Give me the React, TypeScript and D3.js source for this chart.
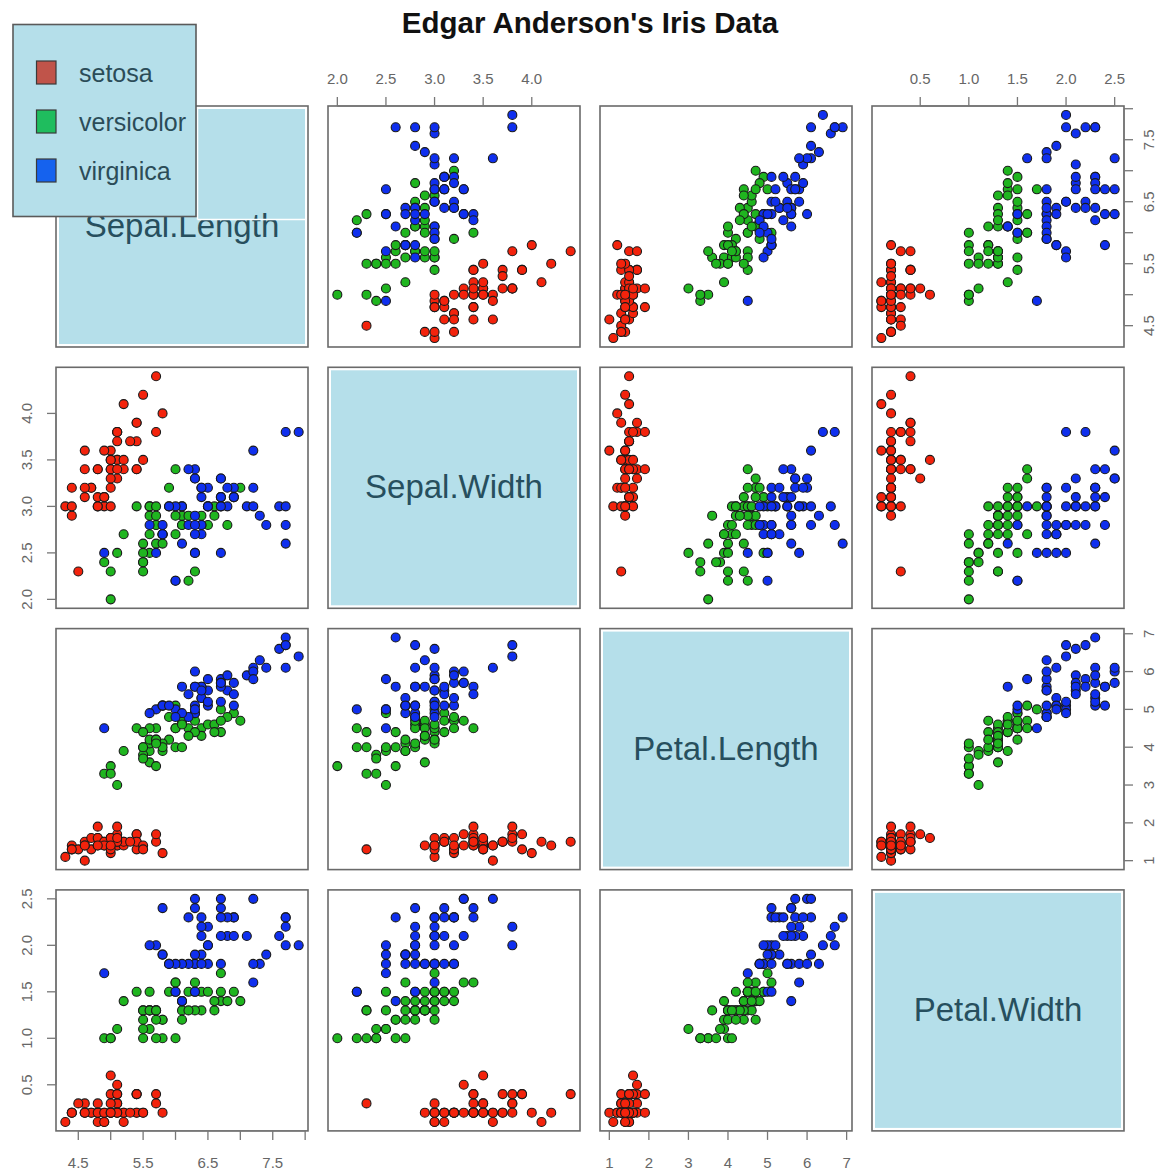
import React from "react";
import * as d3 from "d3";

const title = "Edgar Anderson's Iris Data";
const variables = ["Sepal.Length", "Sepal.Width", "Petal.Length", "Petal.Width"];
const speciesNames = ["setosa", "versicolor", "virginica"];
const speciesCounts = [50, 50, 50];
const pointColors = ["#f3230c", "#1fb51f", "#0f2fee"];
const legendColors = ["#c0544a", "#1fbd5e", "#1562ee"];

const sepalLength = [
  5.1,4.9,4.7,4.6,5.0,5.4,4.6,5.0,4.4,4.9,5.4,4.8,4.8,4.3,5.8,5.7,5.4,5.1,5.7,5.1,5.4,5.1,4.6,5.1,4.8,5.0,5.0,5.2,5.2,4.7,4.8,5.4,5.2,5.5,4.9,5.0,5.5,4.9,4.4,5.1,5.0,4.5,4.4,5.0,5.1,4.8,5.1,4.6,5.3,5.0,
  7.0,6.4,6.9,5.5,6.5,5.7,6.3,4.9,6.6,5.2,5.0,5.9,6.0,6.1,5.6,6.7,5.6,5.8,6.2,5.6,5.9,6.1,6.3,6.1,6.4,6.6,6.8,6.7,6.0,5.7,5.5,5.5,5.8,6.0,5.4,6.0,6.7,6.3,5.6,5.5,5.5,6.1,5.8,5.0,5.6,5.7,5.7,6.2,5.1,5.7,
  6.3,5.8,7.1,6.3,6.5,7.6,4.9,7.3,6.7,7.2,6.5,6.4,6.8,5.7,5.8,6.4,6.5,7.7,7.7,6.0,6.9,5.6,7.7,6.3,6.7,7.2,6.2,6.1,6.4,7.2,7.4,7.9,6.4,6.3,6.1,7.7,6.3,6.4,6.0,6.9,6.7,6.9,5.8,6.8,6.7,6.7,6.3,6.5,6.2,5.9
];
const sepalWidth = [
  3.5,3.0,3.2,3.1,3.6,3.9,3.4,3.4,2.9,3.1,3.7,3.4,3.0,3.0,4.0,4.4,3.9,3.5,3.8,3.8,3.4,3.7,3.6,3.3,3.4,3.0,3.4,3.5,3.4,3.2,3.1,3.4,4.1,4.2,3.1,3.2,3.5,3.6,3.0,3.4,3.5,2.3,3.2,3.5,3.8,3.0,3.8,3.2,3.7,3.3,
  3.2,3.2,3.1,2.3,2.8,2.8,3.3,2.4,2.9,2.7,2.0,3.0,2.2,2.9,2.9,3.1,3.0,2.7,2.2,2.5,3.2,2.8,2.5,2.8,2.9,3.0,2.8,3.0,2.9,2.6,2.4,2.4,2.7,2.7,3.0,3.4,3.1,2.3,3.0,2.5,2.6,3.0,2.6,2.3,2.7,3.0,2.9,2.9,2.5,2.8,
  3.3,2.7,3.0,2.9,3.0,3.0,2.5,2.9,2.5,3.6,3.2,2.7,3.0,2.5,2.8,3.2,3.0,3.8,2.6,2.2,3.2,2.8,2.8,2.7,3.3,3.2,2.8,3.0,2.8,3.0,2.8,3.8,2.8,2.8,2.6,3.0,3.4,3.1,3.0,3.1,3.1,3.1,2.7,3.2,3.3,3.0,2.5,3.0,3.4,3.0
];
const petalLength = [
  1.4,1.4,1.3,1.5,1.4,1.7,1.4,1.5,1.4,1.5,1.5,1.6,1.4,1.1,1.2,1.5,1.3,1.4,1.7,1.5,1.7,1.5,1.0,1.7,1.9,1.6,1.6,1.5,1.4,1.6,1.6,1.5,1.5,1.4,1.5,1.2,1.3,1.4,1.3,1.5,1.3,1.3,1.3,1.6,1.9,1.4,1.6,1.4,1.5,1.4,
  4.7,4.5,4.9,4.0,4.6,4.5,4.7,3.3,4.6,3.9,3.5,4.2,4.0,4.7,3.6,4.4,4.5,4.1,4.5,3.9,4.8,4.0,4.9,4.7,4.3,4.4,4.8,5.0,4.5,3.5,3.8,3.7,3.9,5.1,4.5,4.5,4.7,4.4,4.1,4.0,4.4,4.6,4.0,3.3,4.2,4.2,4.2,4.3,3.0,4.1,
  6.0,5.1,5.9,5.6,5.8,6.6,4.5,6.3,5.8,6.1,5.1,5.3,5.5,5.0,5.1,5.3,5.5,6.7,6.9,5.0,5.7,4.9,6.7,4.9,5.7,6.0,4.8,4.9,5.6,5.8,6.1,6.4,5.6,5.1,5.6,6.1,5.6,5.5,4.8,5.4,5.6,5.1,5.1,5.9,5.7,5.2,5.0,5.2,5.4,5.1
];
const petalWidth = [
  0.2,0.2,0.2,0.2,0.2,0.4,0.3,0.2,0.2,0.1,0.2,0.2,0.1,0.1,0.2,0.4,0.4,0.3,0.3,0.3,0.2,0.4,0.2,0.5,0.2,0.2,0.4,0.2,0.2,0.2,0.2,0.4,0.1,0.2,0.2,0.2,0.2,0.1,0.2,0.2,0.3,0.3,0.2,0.6,0.4,0.3,0.2,0.2,0.2,0.2,
  1.4,1.5,1.5,1.3,1.5,1.3,1.6,1.0,1.3,1.4,1.0,1.5,1.0,1.4,1.3,1.4,1.5,1.0,1.5,1.1,1.8,1.3,1.5,1.2,1.3,1.4,1.4,1.7,1.5,1.0,1.1,1.0,1.2,1.6,1.5,1.6,1.5,1.3,1.3,1.3,1.2,1.4,1.2,1.0,1.3,1.2,1.3,1.3,1.1,1.3,
  2.5,1.9,2.1,1.8,2.2,2.1,1.7,1.8,1.8,2.5,2.0,1.9,2.1,2.0,2.4,2.3,1.8,2.2,2.3,1.5,2.3,2.0,2.0,1.8,2.1,1.8,1.8,1.8,2.1,1.6,1.9,2.0,2.2,1.5,1.4,2.3,2.4,1.8,1.8,2.1,2.4,2.3,1.9,2.3,2.5,2.3,1.9,2.0,2.3,1.8
];

// tick values and which get labels
const ticksSepalLength = [4.5, 5.0, 5.5, 6.0, 6.5, 7.0, 7.5, 8.0];
const labelsSepalLength = ["4.5", "", "5.5", "", "6.5", "", "7.5", ""];
const ticksSepalWidth = [2.0, 2.5, 3.0, 3.5, 4.0];
const labelsSepalWidth = ["2.0", "2.5", "3.0", "3.5", "4.0"];
const ticksPetalLength = [1, 2, 3, 4, 5, 6, 7];
const labelsPetalLength = ["1", "2", "3", "4", "5", "6", "7"];
const ticksPetalWidth = [0.5, 1.0, 1.5, 2.0, 2.5];
const labelsPetalWidth = ["0.5", "1.0", "1.5", "2.0", "2.5"];

const columns = [sepalLength, sepalWidth, petalLength, petalWidth];
const tickSets = [ticksSepalLength, ticksSepalWidth, ticksPetalLength, ticksPetalWidth];
const labelSets = [labelsSepalLength, labelsSepalWidth, labelsPetalLength, labelsPetalWidth];

const W = 1158, H = 1173;
const PX0 = 56, PSTRIDE_X = 272, PW = 252;
const PY0 = 106, PSTRIDE_Y = 261.3, PH = 241;
const FONT = "'Liberation Sans', Arial, Helvetica, sans-serif";
const BOX = "#6a6a6a";
const AXIS = "#777";
const TICKTXT = "#666";
const LIGHTBLUE = "#b5dfea";
const DIAGTXT = "#274f5e";

function speciesIndex(): number[] {
  const out: number[] = [];
  speciesCounts.forEach((n, s) => { for (let i = 0; i < n; i++) out.push(s); });
  return out;
}

function extDomain(v: number[]): [number, number] {
  const [lo, hi] = d3.extent(v) as [number, number];
  const pad = (hi - lo) * 0.04;
  return [lo - pad, hi + pad];
}

export default function App() {
  const sp = speciesIndex();
  const n = variables.length;
  const xScales = columns.map((c, j) =>
    d3.scaleLinear().domain(extDomain(c)).range([PX0 + j * PSTRIDE_X, PX0 + j * PSTRIDE_X + PW]));
  const yScales = columns.map((c, i) =>
    d3.scaleLinear().domain(extDomain(c)).range([PY0 + i * PSTRIDE_Y + PH, PY0 + i * PSTRIDE_Y]));

  const panels: React.ReactNode[] = [];
  for (let i = 0; i < n; i++) {
    for (let j = 0; j < n; j++) {
      const x0 = PX0 + j * PSTRIDE_X;
      const y0 = PY0 + i * PSTRIDE_Y;
      if (i === j) {
        panels.push(
          <g key={`p${i}${j}`}>
            <rect x={x0} y={y0} width={PW} height={PH} fill="#fff" stroke={BOX} strokeWidth={1.6} />
            <rect x={x0 + 3} y={y0 + 3} width={PW - 6} height={PH - 6} fill={LIGHTBLUE} />
            <text x={x0 + PW / 2} y={y0 + PH / 2 - 1} textAnchor="middle" dominantBaseline="central"
              fontFamily={FONT} fontSize={33} fill={DIAGTXT}>{variables[i]}</text>
          </g>
        );
      } else {
        const xs = xScales[j], ys = yScales[i];
        panels.push(
          <g key={`p${i}${j}`}>
            <rect x={x0} y={y0} width={PW} height={PH} fill="#fff" />
            {columns[j].map((v, k) => (
              <circle key={k} cx={xs(v)} cy={ys(columns[i][k])} r={4.5}
                fill={pointColors[sp[k]]} stroke="#1a1a1a" strokeWidth={1.1} />
            ))}
            <rect x={x0} y={y0} width={PW} height={PH} fill="none" stroke={BOX} strokeWidth={1.6} />
          </g>
        );
      }
    }
  }

  // Axes
  const axes: React.ReactNode[] = [];
  for (let k = 0; k < n; k++) {
    const ticks = tickSets[k];
    const labels = labelSets[k];
    const xs = xScales[k];
    const ys = yScales[k];
    const top = k % 2 === 1; // columns 2 & 4 top, 1 & 3 bottom
    const ay = top ? PY0 : PY0 + (n - 1) * PSTRIDE_Y + PH;
    const dir = top ? -1 : 1;
    axes.push(
      <g key={`hx${k}`}>
        <line x1={xs(ticks[0])} x2={xs(ticks[ticks.length - 1])} y1={ay} y2={ay} stroke={AXIS} strokeWidth={1.3} />
        {ticks.map((t, q) => (
          <g key={q}>
            <line x1={xs(t)} x2={xs(t)} y1={ay} y2={ay + dir * 9} stroke={AXIS} strokeWidth={1.3} />
            {labels[q] && (
              <text x={xs(t)} y={top ? ay - 28 : ay + 32} textAnchor="middle" dominantBaseline="central"
                fontFamily={FONT} fontSize={15} fill={TICKTXT}>{labels[q]}</text>
            )}
          </g>
        ))}
      </g>
    );
    const left = k % 2 === 1;
    const ax = left ? PX0 : PX0 + (n - 1) * PSTRIDE_X + PW;
    const hdir = left ? -1 : 1;
    axes.push(
      <g key={`vy${k}`}>
        <line x1={ax} x2={ax} y1={ys(ticks[0])} y2={ys(ticks[ticks.length - 1])} stroke={AXIS} strokeWidth={1.3} />
        {ticks.map((t, q) => {
          const lx = left ? ax - 29 : ax + 25;
          return (
            <g key={q}>
              <line x1={ax} x2={ax + hdir * 9} y1={ys(t)} y2={ys(t)} stroke={AXIS} strokeWidth={1.3} />
              {labels[q] && (
                <text x={lx} y={ys(t)} textAnchor="middle" dominantBaseline="central"
                  transform={`rotate(-90 ${lx} ${ys(t)})`}
                  fontFamily={FONT} fontSize={15} fill={TICKTXT}>{labels[q]}</text>
              )}
            </g>
          );
        })}
      </g>
    );
  }

  const legendY = d3.scaleLinear().domain([0, 2]).range([72.5, 170.5]);

  return (
    <svg width={W} height={H} style={{ position: "absolute", left: 0, top: 0, background: "#fff" }}>
      <rect x={0} y={0} width={W} height={H} fill="#fff" />
      <text x={590} y={33} textAnchor="middle" fontFamily={FONT} fontWeight="bold" fontSize={29.5} fill="#111">{title}</text>
      {panels}
      {axes}
      <g>
        <line x1={197.5} x2={197.5} y1={108} y2={219.5} stroke="#fff" strokeWidth={1.5} />
        <line x1={197.5} x2={306} y1={219.5} y2={219.5} stroke="#fff" strokeWidth={1.5} />
        <rect x={13} y={24.5} width={183} height={192} fill={LIGHTBLUE} stroke="#5a5a5a" strokeWidth={1.6} />
        {speciesNames.map((s, q) => (
          <g key={s}>
            <rect x={36.5} y={legendY(q) - 11.5} width={19.5} height={23} fill={legendColors[q]} stroke="#3a3a3a" strokeWidth={1.2} />
            <text x={79} y={legendY(q)} dominantBaseline="central" fontFamily={FONT} fontSize={25} fill="#2b4c58">{s}</text>
          </g>
        ))}
      </g>
    </svg>
  );
}
